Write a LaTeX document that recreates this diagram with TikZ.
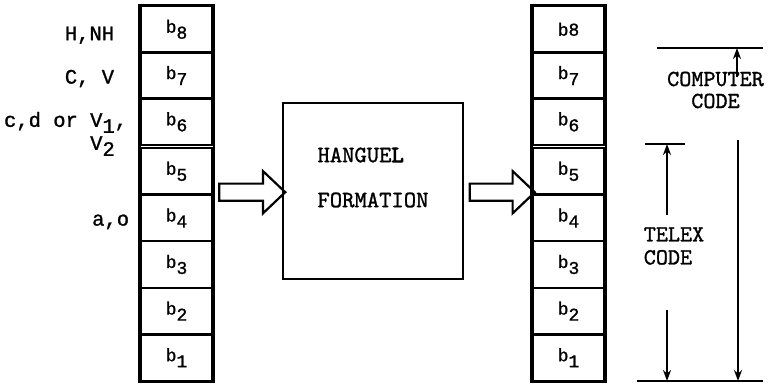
\documentclass[tikz,border=0pt]{standalone}
\usepackage{fontspec}
\newfontfamily\typew[FakeBold=1.2]{Liberation Mono}
\newfontfamily\typelm[FakeBold=1.2]{lmmono10-regular.otf}
\newfontfamily\typelmbold[FakeBold=4]{lmmono10-regular.otf}
\usetikzlibrary{positioning,shapes.arrows,calc,arrows.meta}
\newcommand{\bsub}[1]{b\raisebox{-6pt}{#1}}
\newcommand{\vsub}[1]{V\raisebox{-6pt}{#1}}

\begin{document}
\begin{tikzpicture}
    [x=1pt,y=-1pt,every node/.style={inner sep=0pt},
     cell/.style={draw,line width=2.4pt,minimum width=72pt,minimum height=46.5pt,font=\fontsize{18}{18}\selectfont\typew},
     lbl/.style={font=\fontsize{20.5}{23}\selectfont\typew,align=left},
     caption/.style={font=\fontsize{23}{22}\selectfont\typelm},
     hollow/.style={single arrow,draw,line width=2.2pt,inner ysep=7.5pt,inner xsep=0pt,
       single arrow head extend=12.5pt,single arrow tip angle=87,minimum width=0pt,minimum height=66pt},
     dim/.style={line width=2.8pt},
     dimarrow/.style={line width=2.2pt,-{Stealth[length=11pt,width=8pt]}}]
      \useasboundingbox (0,0) rectangle (770,388);

      % register bits, left and right
      \foreach \i in {1,...,5} {
        \node[cell] (l\i) at (176.5,{381-46.6*(\i-0.5)}) {\bsub{\i}};
        \node[cell] (r\i) at (568.5,{381-46.6*(\i-0.5)}) {\bsub{\i}};
      }
      \foreach \i in {6,7} {
        \node[cell] (l\i) at (176.5,{145-46.3*(\i-5.5)}) {\bsub{\i}};
        \node[cell] (r\i) at (568.5,{145-46.3*(\i-5.5)}) {\bsub{\i}};
      }
      \node[cell] (l8) at (176.5,{145-46.3*2.5}) {\bsub{8}};
      \node[cell] (r8) at (568.5,{145-46.3*2.5}) {b8};
      \draw[line width=2.4pt] (l8.north west) rectangle (l1.south east);
      \draw[line width=2.4pt] (r8.north west) rectangle (r1.south east);

      \node[lbl,left=25pt of l8,yshift=-6pt] (hnh) {H,NH};
      \node[lbl,left=25pt of l7,yshift=-3pt] (cv)  {C, V};
      \node[lbl,left=12pt of l6,yshift=-12pt] (cdv) {c,d or \vsub{1},\\\phantom{c,d or }\vsub{2}};
      \node[lbl,left=10pt of l4,yshift=-4pt] (ao)  {a,o};

      % formation box
      \node[draw,line width=2.6pt,minimum width=180pt,minimum height=176pt] (hangul) at (373,191) {};
      \node[font=\fontsize{23.5}{45}\selectfont\typelm,align=left] (hangtxt)
        at ([yshift=13.5pt]hangul.center) {HANGUE{\typelmbold L}\\FORMATION};

      \node[hollow] (inarrow)  at ($(l4.north east)!0.5!(hangul.west)$) {};
      \node[hollow,minimum height=65pt] (outarrow) at ($(hangul.east)!0.5!(r4.north west)$) {};

      % code lengths
      \coordinate (cctopl) at (657,48);
      \coordinate (cctopr) at (763,48);
      \coordinate (cctip)  at (737,48);
      \coordinate (ccup)   at (737,77);
      \coordinate (ccdown) at (738,140);
      \coordinate (ccbot)  at (738,381);
      \coordinate (tctopl) at (645,144);
      \coordinate (tctopr) at (685,144);
      \coordinate (tctip)  at (667,144);
      \coordinate (tcup)   at (667,215);
      \coordinate (tcdown) at (667,310);
      \coordinate (tcbot)  at (667,381);
      \coordinate (botl)   at (637,381);
      \coordinate (botr)   at (763,381);

      \node[caption,align=center] (cc) at (715.5,90) {COMPUTER\\CODE};
      \node[caption,align=left,font=\fontsize{23}{23}\selectfont\typelm] (tc) at (674,246) {TELEX\\CODE};

      \draw[dim] (cctopl) -- (cctopr);
      \draw[dim] (tctopl) -- (tctopr);
      \draw[dim] (botl) -- (botr);
      \draw[dimarrow] (ccup) -- (cctip);
      \draw[dimarrow] (ccdown) -- (ccbot);
      \draw[dimarrow] (tcup) -- (tctip);
      \draw[dimarrow] (tcdown) -- (tcbot);
\end{tikzpicture}
\end{document}
